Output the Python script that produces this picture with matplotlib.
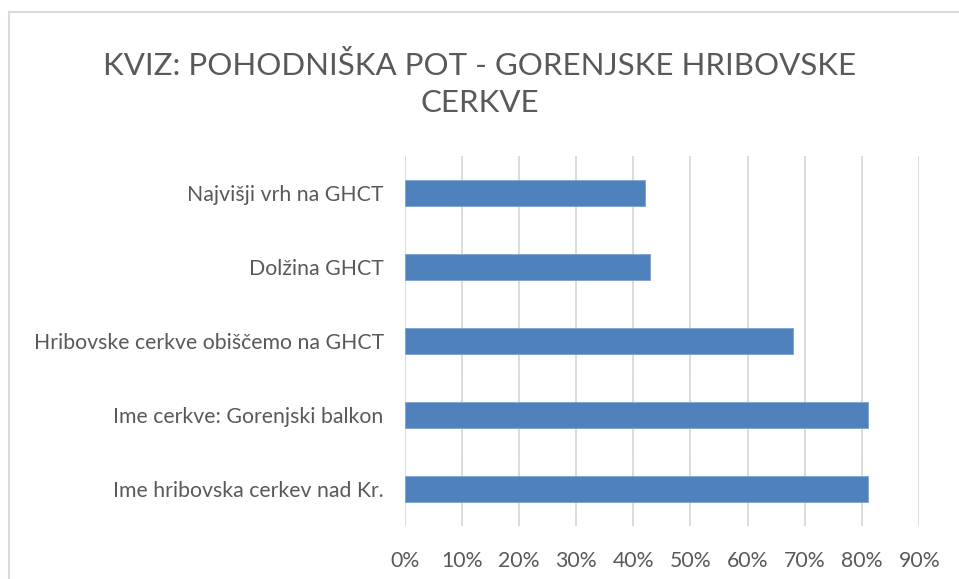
import matplotlib.pyplot as plt
from matplotlib.patches import Rectangle
from matplotlib.ticker import PercentFormatter

# categories from bottom to top, as in the source sheet
categories = [
    "Ime hribovska cerkev nad Kr.",
    "Ime cerkve: Gorenjski balkon",
    "Hribovske cerkve obiščemo na GHCT",
    "Dolžina GHCT",
    "Najvišji vrh na GHCT",
]
shares = [0.81, 0.81, 0.68, 0.43, 0.42]
x_ticks = [i / 10 for i in range(10)]

title = "KVIZ: POHODNIŠKA POT - GORENJSKE HRIBOVSKE\nCERKVE"

text_color = "#595959"
grid_color = "#d9d9d9"
bar_color = "#4f81bd"

plt.rcParams["font.family"] = ["Lato", "DejaVu Sans"]

fig = plt.figure(figsize=(9.59, 5.79), dpi=100)
ax = fig.add_axes([0.4218, 0.0915, 0.5367, 0.6391])

y = range(len(categories))
ax.barh(y, shares, height=0.35, color=bar_color, edgecolor="#7da2d3",
        linewidth=0.6, zorder=3)

ax.set_xlim(0, 0.9)
ax.set_ylim(-0.5, len(categories) - 0.5)
ax.set_xticks(x_ticks)
ax.xaxis.set_major_formatter(PercentFormatter(1.0, decimals=0))
ax.set_yticks(list(y))
ax.set_yticklabels(categories)
ax.grid(axis="x", color=grid_color, linewidth=1.3, zorder=0)
ax.tick_params(axis="both", length=0, labelsize=15.3, colors=text_color)
ax.tick_params(axis="x", pad=18)
ax.tick_params(axis="y", pad=15)
for s in ax.spines.values():
    s.set_visible(False)

fig.text(0.5, 0.855, title, ha="center", va="center", fontsize=22.5,
         fontweight="normal", color=text_color, linespacing=1.4)

# outer chart border
fig.patches.append(Rectangle((8.5 / 959, -0.05), 1.2, 1 - 11.7 / 579 + 0.05,
                             transform=fig.transFigure, fill=False,
                             edgecolor=grid_color, linewidth=1.5))

fig.savefig("out.png", dpi=100)
